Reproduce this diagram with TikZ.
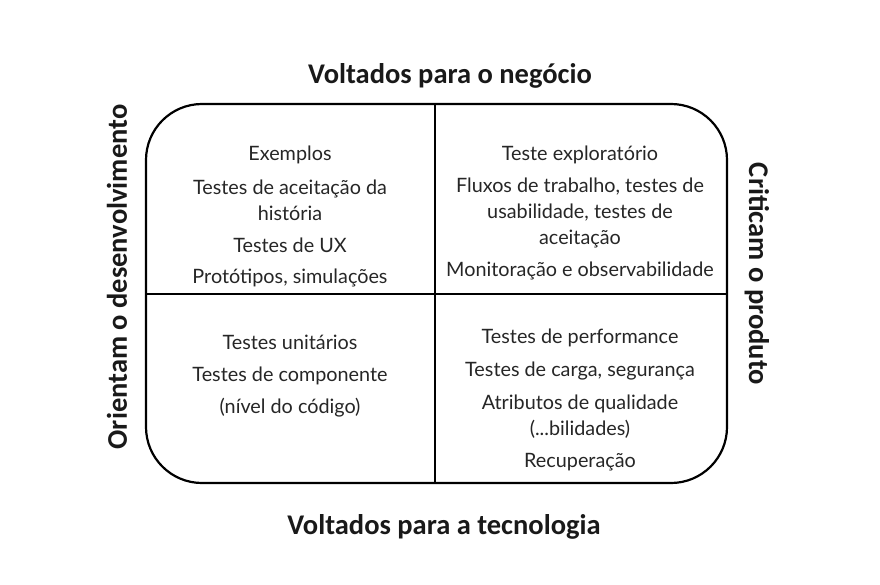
\documentclass[tikz,border=0pt]{standalone}
\usepackage{fontspec}
\setmainfont{Carlito}
\newfontfamily\bodyfont{Lato}
\tikzset{
  quadtext/.style={font=\bodyfont\fontsize{19.8}{26}\selectfont, align=center, text=black!85, inner sep=0pt},
  axistitle/.style={font=\bfseries\fontsize{28.5}{32}\selectfont, text=black!90, inner sep=0pt},
}
\begin{document}
\begin{tikzpicture}[x=1pt, y=-1pt]
    \useasboundingbox (0, 0) rectangle (880, 585);
    % frame and quadrants
    \draw[line width=2.2pt, rounded corners=56pt] (146, 104) rectangle (727, 483);
    \draw[line width=2pt] (435, 104) -- (435, 483);
    \draw[line width=2pt] (146, 294) -- (727, 294);
    % axis titles
    \node[axistitle] (top) at (450, 76) {Voltados para o negócio};
    \node[axistitle] (bottom) at (444, 527) {Voltados para a tecnologia};
    \node[axistitle, rotate=90] (left) at (117, 277) {Orientam o desenvolvimento};
    \node[axistitle, rotate=-90] (right) at (757, 274) {Criticam o produto};
    % top left
    \node[quadtext] (ex) at (290, 155) {Exemplos};
    \node[quadtext] (acc) at (290, 200) {Testes de aceitação da\\história};
    \node[quadtext] (ux) at (290, 245) {Testes de UX};
    \node[quadtext] (proto) at (290, 278) {Protótipos, simulações};
    % top right
    \node[quadtext] (expl) at (580, 155) {Teste exploratório};
    \node[quadtext] (flux) at (580, 213) {Fluxos de trabalho, testes de\\usabilidade, testes de\\aceitação};
    \node[quadtext] (mon) at (580, 271) {Monitoração e observabilidade};
    % bottom left
    \node[quadtext] (unit) at (290, 342) {Testes unitários};
    \node[quadtext] (comp) at (290, 376) {Testes de componente};
    \node[quadtext] (code) at (290, 408) {(nível do código)};
    % bottom right
    \node[quadtext] (perf) at (580, 338) {Testes de performance};
    \node[quadtext] (load) at (580, 371) {Testes de carga, segurança};
    \node[quadtext] (attr) at (580, 417) {Atributos de qualidade\\(...bilidades)};
    \node[quadtext] (rec) at (580, 462) {Recuperação};
  \end{tikzpicture}
\end{document}
